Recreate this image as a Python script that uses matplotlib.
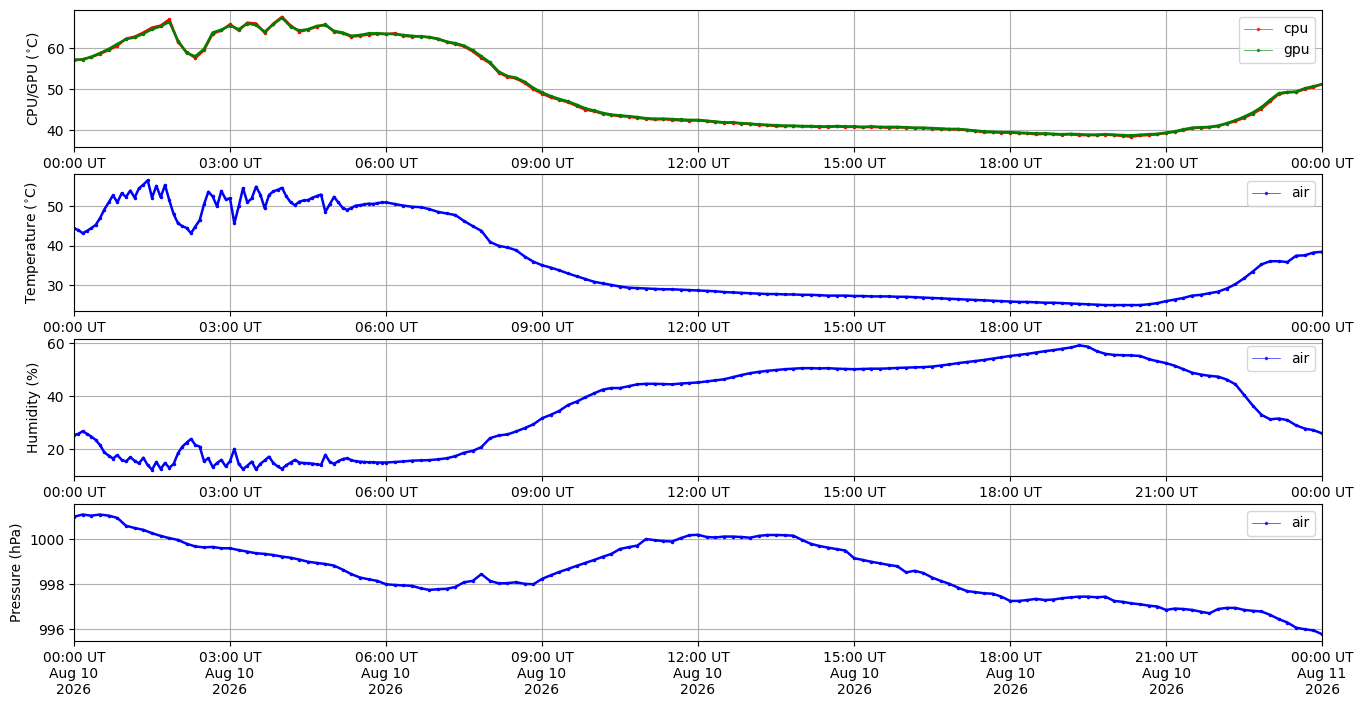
import numpy as np
import matplotlib
matplotlib.use('Agg')
from matplotlib import pyplot as plt
import matplotlib.dates as mdates

# readings at 10 minute steps, 00:00 .. 24:00 UT
cpu = [57.0, 57.3, 57.8, 58.6, 59.5, 60.6,
       62.3, 62.8, 63.8, 65.0, 65.5, 67.0,
       61.5, 59.0, 57.6, 59.5, 63.5, 64.3,
       65.8, 64.3, 66.2, 66.0, 63.7, 66.0,
       67.6, 65.5, 64.0, 64.5, 65.2, 65.8,
       64.0, 63.6, 62.8, 63.0, 63.3, 63.5,
       63.4, 63.6, 63.0, 62.8, 62.9, 62.6,
       62.2, 61.5, 61.0, 60.4, 59.2, 57.6,
       56.3, 54.0, 53.0, 52.6, 51.5, 50.0,
       48.9, 48.0, 47.4, 46.8, 45.9, 45.0,
       44.6, 44.0, 43.7, 43.4, 43.3, 43.0,
       42.8, 42.6, 42.7, 42.5, 42.4, 42.3,
       42.4, 42.2, 42.0, 41.8, 41.8, 41.6,
       41.5, 41.3, 41.2, 41.0, 41.0, 41.0,
       40.9, 40.9, 40.8, 40.8, 40.9, 40.8,
       40.8, 40.7, 40.8, 40.7, 40.6, 40.7,
       40.6, 40.5, 40.5, 40.4, 40.3, 40.2,
       40.2, 40.0, 39.8, 39.5, 39.5, 39.4,
       39.4, 39.3, 39.2, 39.0, 39.1, 39.0,
       38.9, 39.0, 38.8, 38.8, 38.8, 38.9,
       38.8, 38.6, 38.4, 38.7, 38.8, 39.0,
       39.3, 39.6, 40.0, 40.5, 40.6, 40.7,
       41.0, 41.6, 42.2, 43.0, 44.0, 45.2,
       47.0, 48.8, 49.2, 49.3, 50.0, 50.5,
       51.2]

gpu = [57.2, 57.2, 57.9, 58.8, 59.8, 61.0,
       62.2, 62.6, 63.5, 64.6, 65.3, 66.4,
       61.8, 58.8, 58.0, 59.8, 63.8, 64.5,
       65.5, 64.6, 66.0, 65.6, 64.0, 65.8,
       67.4, 65.2, 64.3, 64.6, 65.4, 65.6,
       64.2, 63.8, 63.0, 63.2, 63.6, 63.6,
       63.5, 63.4, 63.2, 63.0, 62.8, 62.7,
       62.3, 61.6, 61.2, 60.6, 59.5, 58.0,
       56.5, 54.3, 53.2, 52.8, 51.8, 50.3,
       49.2, 48.3, 47.6, 47.0, 46.2, 45.3,
       44.8, 44.2, 43.8, 43.6, 43.4, 43.2,
       42.9, 42.8, 42.8, 42.7, 42.6, 42.5,
       42.5, 42.3, 42.1, 41.9, 41.9, 41.7,
       41.6, 41.4, 41.3, 41.2, 41.1, 41.1,
       41.0, 41.0, 40.9, 40.9, 41.0, 40.9,
       40.9, 40.8, 40.9, 40.8, 40.8, 40.8,
       40.7, 40.6, 40.6, 40.5, 40.4, 40.3,
       40.3, 40.1, 39.9, 39.7, 39.6, 39.5,
       39.5, 39.4, 39.3, 39.2, 39.2, 39.1,
       39.0, 39.1, 39.0, 38.9, 38.9, 39.0,
       38.9, 38.8, 38.7, 38.9, 39.0, 39.1,
       39.4, 39.7, 40.2, 40.6, 40.7, 40.8,
       41.1, 41.7, 42.4, 43.3, 44.3, 45.6,
       47.4, 49.0, 49.3, 49.4, 50.2, 50.7,
       51.2]

# air temperature: 5 minute steps 00:00-05:55, then 10 minute steps 06:00-24:00
temp_early = [44.4, 44.0, 43.2, 43.8, 44.5, 45.3, 47.0, 49.2, 51.0, 52.8, 51.0, 53.3,
              52.4, 54.0, 52.2, 54.6, 55.5, 56.6, 52.2, 55.2, 52.3, 55.4, 51.5, 48.0,
              45.7, 45.0, 44.5, 43.2, 44.9, 46.5, 50.5, 53.7, 52.5, 50.0, 53.9, 51.8,
              52.0, 45.7, 50.0, 54.6, 51.0, 52.0, 55.0, 53.0, 49.5, 52.9, 53.8, 54.2,
              54.7, 52.5, 51.0, 50.3, 51.2, 51.5, 51.6, 52.2, 52.6, 53.0, 48.6, 50.5,
              52.4, 51.0, 49.6, 49.1, 49.6, 50.2, 50.3, 50.5, 50.7, 50.6, 50.8, 51.0]
temp_late = [51.0, 50.6, 50.2, 49.9, 49.8, 49.3,
             48.6, 48.2, 47.8, 46.3, 45.0, 43.8,
             41.0, 40.0, 39.6, 38.9, 37.3, 36.0,
             35.1, 34.5, 33.8, 33.0, 32.3, 31.6,
             30.9, 30.5, 30.1, 29.7, 29.4, 29.3,
             29.2, 29.1, 29.0, 29.0, 28.9, 28.8,
             28.7, 28.6, 28.5, 28.3, 28.2, 28.1,
             28.0, 27.9, 27.8, 27.8, 27.7, 27.7,
             27.6, 27.6, 27.5, 27.4, 27.4, 27.4,
             27.3, 27.3, 27.2, 27.2, 27.2, 27.1,
             27.1, 27.0, 26.9, 26.8, 26.7, 26.6,
             26.5, 26.4, 26.3, 26.2, 26.1, 26.0,
             25.9, 25.8, 25.8, 25.7, 25.6, 25.6,
             25.5, 25.4, 25.3, 25.2, 25.1, 25.0,
             25.0, 25.0, 25.0, 25.0, 25.2, 25.5,
             26.0, 26.4, 26.8, 27.4, 27.6, 28.0,
             28.4, 29.2, 30.3, 31.8, 33.5, 35.3,
             36.1, 36.1, 35.9, 37.5, 37.6, 38.3,
             38.5]

hum_early = [25.4, 25.8, 26.8, 25.8, 24.8, 23.5, 21.6, 18.8, 17.6, 16.5, 17.8, 16.0,
             15.4, 17.0, 15.6, 14.7, 16.8, 14.0, 12.3, 15.2, 12.6, 14.8, 13.0, 14.5,
             18.5, 21.0, 22.5, 23.9, 21.6, 21.0, 15.5, 16.6, 13.3, 14.8, 16.0, 13.5,
             15.5, 20.1, 14.5, 12.5, 13.8, 15.3, 12.4, 14.5, 15.8, 17.2, 14.8, 13.5,
             12.6, 14.0, 15.0, 16.0, 15.0, 14.8, 14.7, 14.6, 14.3, 14.1, 17.9, 15.3,
             14.5, 15.5, 16.3, 16.6, 15.9, 15.5, 15.3, 15.2, 15.1, 15.1, 15.0, 15.0]
hum_late = [15.0, 15.2, 15.4, 15.7, 15.8, 15.9,
            16.2, 16.6, 17.4, 18.7, 19.4, 20.8,
            24.2, 25.2, 25.6, 26.7, 28.0, 29.4,
            31.7, 33.0, 34.5, 36.7, 38.0, 39.6,
            41.1, 42.5, 43.1, 43.1, 43.8, 44.5,
            44.7, 44.7, 44.6, 44.5, 44.8, 45.0,
            45.2, 45.6, 46.0, 46.4, 47.2, 48.0,
            48.7, 49.2, 49.6, 49.9, 50.2, 50.4,
            50.6, 50.6, 50.5, 50.6, 50.4, 50.3,
            50.2, 50.3, 50.4, 50.4, 50.5, 50.7,
            50.8, 50.9, 51.0, 51.2, 51.6, 52.0,
            52.5, 52.9, 53.3, 53.7, 54.2, 54.7,
            55.2, 55.6, 56.0, 56.5, 57.0, 57.4,
            57.9, 58.4, 59.2, 58.7, 57.0, 56.0,
            55.6, 55.5, 55.4, 55.2, 54.0, 53.2,
            52.5, 51.5, 50.2, 48.9, 48.2, 47.7,
            47.4, 46.3, 44.5, 40.5, 36.5, 33.0,
            31.3, 31.6, 31.0, 29.0, 27.8, 27.2,
            26.0]

pressure = [1001.0, 1001.1, 1001.05, 1001.1, 1001.05, 1000.95,
            1000.6, 1000.5, 1000.42, 1000.27, 1000.15, 1000.05,
            999.97, 999.8, 999.68, 999.64, 999.66, 999.6,
            999.6, 999.52, 999.45, 999.38, 999.35, 999.3,
            999.23, 999.18, 999.1, 999.0, 998.95, 998.9,
            998.83, 998.65, 998.45, 998.3, 998.22, 998.15,
            998.0, 997.97, 997.95, 997.93, 997.82, 997.75,
            997.78, 997.8, 997.88, 998.09, 998.15, 998.45,
            998.15, 998.04, 998.05, 998.09, 998.02, 998.0,
            998.24, 998.4, 998.55, 998.68, 998.82, 998.95,
            999.08, 999.22, 999.35, 999.57, 999.65, 999.72,
            1000.01, 999.96, 999.92, 999.9, 1000.05, 1000.18,
            1000.2, 1000.1, 1000.08, 1000.12, 1000.12, 1000.1,
            1000.07, 1000.15, 1000.19, 1000.19, 1000.18, 1000.16,
            999.97, 999.8, 999.7, 999.63, 999.56, 999.5,
            999.16, 999.08, 999.0, 998.93, 998.86, 998.8,
            998.53, 998.6, 998.5, 998.3, 998.15, 998.02,
            997.85, 997.7, 997.65, 997.6, 997.58, 997.45,
            997.26, 997.26, 997.3, 997.35, 997.3, 997.32,
            997.38, 997.42, 997.45, 997.45, 997.42, 997.45,
            997.26, 997.22, 997.15, 997.11, 997.05, 997.01,
            996.86, 996.92, 996.9, 996.86, 996.78, 996.71,
            996.9, 996.95, 996.95, 996.86, 996.82, 996.79,
            996.64, 996.45, 996.3, 996.07, 996.0, 995.95,
            995.78]

start = np.datetime64('2026-08-10T00:00')
t10 = start + np.arange(len(cpu)) * np.timedelta64(10, 'm')
t_early = start + np.arange(len(temp_early)) * np.timedelta64(5, 'm')
t_late = start + np.timedelta64(6, 'h') + np.arange(len(temp_late)) * np.timedelta64(10, 'm')
t_air = np.concatenate([t_early, t_late]).astype('datetime64[m]').astype(object)
t10 = t10.astype('datetime64[m]').astype(object)
temp = temp_early + temp_late
hum = hum_early + hum_late

fig = plt.figure(figsize=(13.63, 7.07), dpi=100)
left, width, height = 0.0543, 0.9157, 0.1938
bottoms = [0.7921, 0.5601, 0.3267, 0.0934]
axes = [fig.add_axes([left, b, width, height]) for b in bottoms]


def draw(ax, t, v, color, label):
    ax.plot(t, v, color=color, lw=1.8)
    ax.plot(t, v, '.-', color=color, lw=0.6, ms=3, label=label)


draw(axes[0], t10, cpu, 'red', 'cpu')
draw(axes[0], t10, gpu, 'green', 'gpu')
draw(axes[1], t_air, temp, 'blue', 'air')
draw(axes[2], t_air, hum, 'blue', 'air')
draw(axes[3], t10, pressure, 'blue', 'air')

axes[0].set_ylabel(r'CPU/GPU ($^{\circ}$C)')
axes[1].set_ylabel(r'Temperature ($^{\circ}$C)')
axes[2].set_ylabel('Humidity (%)')
axes[3].set_ylabel('Pressure (hPa)')

ylims = [(35.9, 69.3), (23.5, 58.2), (9.9, 61.6), (995.48, 1001.57)]
x0 = start.astype(object)
x1 = (start + np.timedelta64(1, 'D')).astype(object)
for i, ax in enumerate(axes):
    ax.set_xlim(x0, x1)
    ax.set_ylim(*ylims[i])
    ax.grid(True)
    ax.xaxis.set_major_locator(mdates.HourLocator(byhour=range(0, 24, 3)))
    if i < 3:
        ax.xaxis.set_major_formatter(mdates.DateFormatter('%H:%M UT'))
    else:
        ax.xaxis.set_major_formatter(mdates.DateFormatter('%H:%M UT\n%b %d\n%Y'))
    leg = ax.legend(loc='upper right')
    for ln in leg.get_lines():
        ln.set_linewidth(0.6)
        ln.set_alpha(0.7)

plt.savefig('out.png', dpi=100)
